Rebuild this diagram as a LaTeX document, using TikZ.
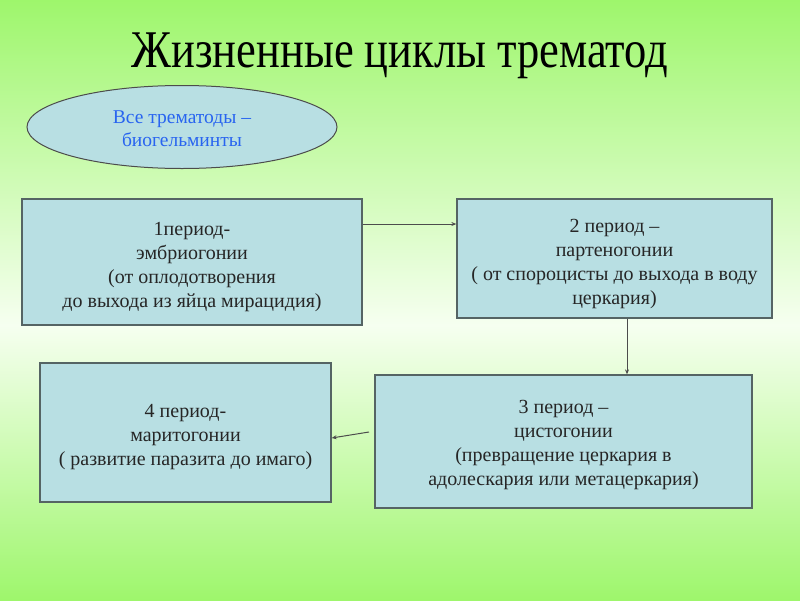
\documentclass[tikz,border=0pt]{standalone}
\usepackage{fontspec}
\setmainfont{Liberation Serif}
\usetikzlibrary{shapes.geometric,arrows.meta}
\definecolor{bggreen}{RGB}{158,246,108}
\definecolor{bgpale}{RGB}{246,255,240}
\definecolor{boxfill}{RGB}{184,223,227}
\definecolor{boxline}{RGB}{85,100,100}
\definecolor{ovaltext}{RGB}{40,100,240}
\tikzset{
  periodbox/.style={draw=boxline, line width=1.3pt, fill=boxfill, inner sep=0pt},
  boxtext/.style={align=center, inner sep=0pt, font=\fontsize{20}{24}\selectfont, text=black!85},
  oval/.style={ellipse, draw=black!70, line width=1pt, fill=boxfill, inner sep=0pt},
  ovaltxt/.style={align=center, inner sep=0pt, font=\fontsize{19.5}{23}\selectfont, text=ovaltext},
  conn/.style={draw=black!70, line width=1pt, -{Stealth[length=5pt,width=4pt]}},
}
\begin{document}
\begin{tikzpicture}[x=1pt,y=-1pt]
\useasboundingbox (0,0) rectangle (800,600);
\shade[top color=bggreen, bottom color=bgpale] (0,0) rectangle (800,325);
\shade[top color=bgpale, bottom color=bggreen] (0,325) rectangle (800,600);
\node[font=\fontsize{53}{60}\selectfont] (title) at (400,56) {\scalebox{0.84}[1]{Жизненные циклы трематод}};
\node[oval, minimum width=310pt, minimum height=83pt] (oval) at (182,127) {};
\node[ovaltxt] (ovalt) at ([yshift=-2pt]oval.center) {Все трематоды –\\биогельминты};
\node[periodbox, minimum width=340pt, minimum height=126pt] (b1) at (192,262) {};
\node[boxtext] (b1t) at ([yshift=-5pt]b1.center)
  {1период-\\эмбриогонии\\(от оплодотворения\\до выхода из яйца мирацидия)};
\node[periodbox, minimum width=315pt, minimum height=119pt] (b2) at (614.5,258.5) {};
\node[boxtext] (b2t) at ([yshift=-6pt]b2.center)
  {2 период –\\партеногонии\\( от спороцисты до выхода в воду\\церкария)};
\node[periodbox, minimum width=377pt, minimum height=133pt] (b3) at (563.5,441.5) {};
\node[boxtext] (b3t) at ([yshift=-3pt]b3.center)
  {3 период –\\цистогонии\\(превращение церкария в\\адолескария или метацеркария)};
\node[periodbox, minimum width=291pt, minimum height=139pt] (b4) at (185.5,432.5) {};
\node[boxtext] (b4t) at ([yshift=-5pt]b4.center)
  {4 период-\\маритогонии\\( развитие паразита до имаго)};
\coordinate (s4) at (369,432);
\draw[conn] (b1.east |- 0,224) -- (b2.west |- 0,224);
\draw[conn] (b2.south -| 627,0) -- (b3.north -| 627,0);
\draw[conn] (s4) -- (b4.east |- 0,438);
\end{tikzpicture}
\end{document}
